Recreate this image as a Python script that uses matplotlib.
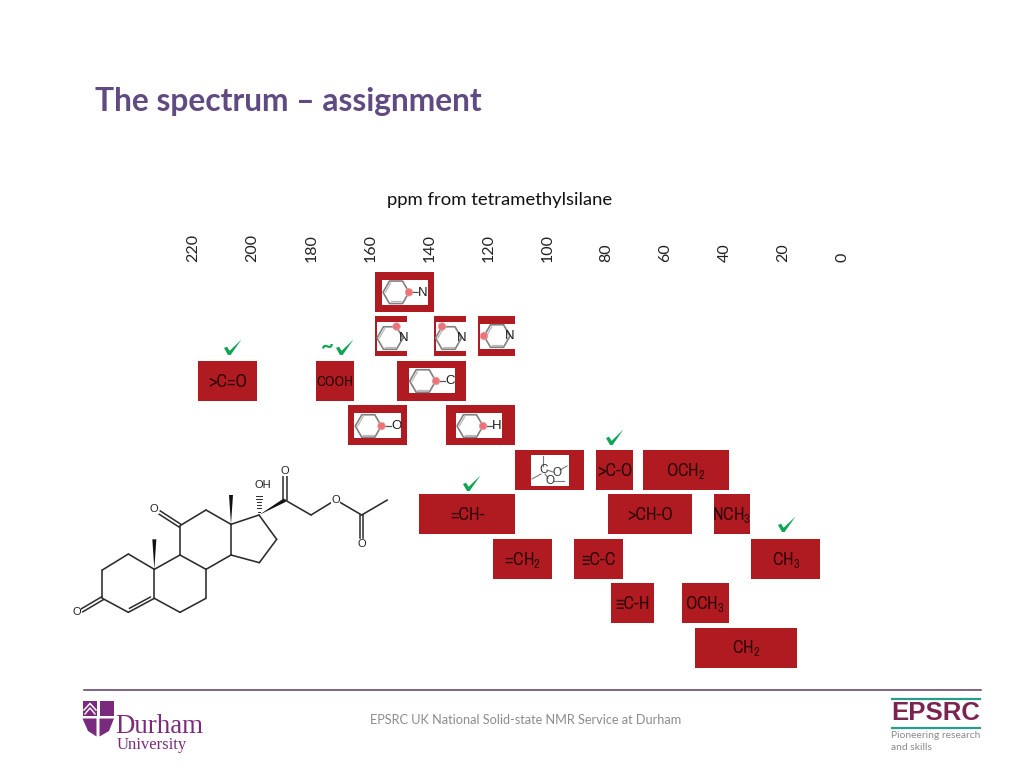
import numpy as np
import matplotlib
matplotlib.use("Agg")
import matplotlib.pyplot as plt
from matplotlib import font_manager as fm
from matplotlib.patches import Polygon, Rectangle, Circle
from matplotlib.transforms import ScaledTranslation

plt.rcParams['mathtext.default'] = 'regular'
names = {f.name for f in fm.fontManager.ttflist}
narrow_found = [n for n in sorted(names) if 'narrow' in n.lower() or 'condensed' in n.lower()]
if narrow_found:
    NARROW, LABEL_SIZE, COOH_SIZE = [narrow_found[0], 'DejaVu Sans'], 12.8, 10.8
else:
    NARROW, LABEL_SIZE, COOH_SIZE = ['Lato', 'DejaVu Sans'], 10.5, 7.8

# ---- data ----
ppm_ticks = [220, 200, 180, 160, 140, 120, 100, 80, 60, 40, 20, 0]
rows = [0, 1, 1, 1, 2, 2, 2, 3, 3, 4, 4, 4, 5, 5, 5, 6, 6, 6, 7, 7, 8]
ppm_high = [158, 158, 138, 123, 218, 178, 150.5, 167, 134, 110.5, 83, 67, 143, 79, 43, 118, 90.5, 30.5, 78, 54, 49.5]
ppm_low = [138, 147, 127, 110.5, 198, 165, 127, 147, 110.5, 87, 70.5, 38, 110.5, 50.5, 31, 98, 74, 7, 63.5, 38, 15]
labels = ['', '', '', '', '>C=O', 'COOH', '', '', '', '', '>C-O', 'OCH$_2$',
          '=CH-', '>CH-O', 'NCH$_3$', '=CH$_2$', '≡C-C', 'CH$_3$', '≡C-H', 'OCH$_3$', 'CH$_2$']

check_xy = [(229, 355), (341, 355), (611, 445), (468, 491), (783, 532)]

# white insets: x0, x1, y0, y1
inset_boxes = [(382.3, 428.3, 280, 305), (376.5, 407.5, 322, 351), (435.5, 466.5, 322, 351),
               (479.5, 515, 323.5, 348.5), (409, 455, 368.3, 393.3), (354.3, 401, 413.3, 438.3),
               (456, 501.7, 413.3, 438.3), (531, 569.3, 455, 485.7)]
ring_cx = [396, 390, 448.5, 497, 422.7, 368.3, 470]
ring_cy = [292.3, 338, 338, 336, 381, 426, 426]
node_x = [409, 396.5, 442, 484, 436, 381.5, 483]
node_y = [292.3, 326.5, 326.5, 336, 381, 426, 426]
ring_lab = ['N', 'N', 'N', 'N', 'C', 'O', 'H']
lab_x = [423, 403.5, 462, 510, 450, 396, 497]
lab_y = [292.5, 338, 338, 336, 381, 426, 426]
has_stem = [True, False, False, False, True, True, True]

# steroid skeleton
atoms = dict(C3=(127, 430), C2=(127, 345), C1=(205, 297), C10=(283, 343), C5=(283, 430), C4=(205, 472),
             C6=(360, 472), C7=(438, 430), C8=(438, 343), C9=(360, 300), C11=(360, 212), C12=(438, 165),
             C13=(513, 208), C14=(513, 300), C15=(598, 323), C16=(650, 253), C17=(597, 180),
             C20=(675, 135), C21=(753, 180), Oe=(815, 142), Oe2=(840, 142), Ca=(905, 180), Me=(982, 135))
bonds = [('C3', 'C2'), ('C2', 'C1'), ('C1', 'C10'), ('C10', 'C5'), ('C5', 'C4'), ('C4', 'C3'), ('C5', 'C6'),
         ('C6', 'C7'), ('C7', 'C8'), ('C8', 'C9'), ('C9', 'C10'), ('C9', 'C11'), ('C11', 'C12'), ('C12', 'C13'),
         ('C13', 'C14'), ('C14', 'C8'), ('C14', 'C15'), ('C15', 'C16'), ('C16', 'C17'), ('C17', 'C13'),
         ('C20', 'C21'), ('C21', 'Oe'), ('Oe2', 'Ca'), ('Ca', 'Me')]
double_bonds = [((127, 430), (66, 466), 5), ((360, 212), (298, 172), 5), ((675, 135), (675, 64), 5),
                ((905, 180), (905, 250), 5), ((283, 430), (205, 472), -1)]
wedges = [((283, 343), (283, 253)), ((513, 208), (513, 120)), ((597, 180), (675, 135))]
mol_atoms = [(50, 472, 'O'), (282, 162, 'O'), (675, 48, 'O'), (827, 135, 'O'), (905, 268, 'O'), (607, 90, 'OH')]

# ---- figure ----
fig = plt.figure(figsize=(10.24, 7.68), dpi=100, facecolor='white')
W, H = 1024, 768

ax = fig.add_axes([100 / W, 1 - 667.6 / H, 800 / W, 395.6 / H])
ax.set_xlim((841 - 100) / 2.95, (841 - 900) / 2.95)
ax.set_ylim(8.9, 0)
ax.patch.set_alpha(0)
for s in ax.spines.values():
    s.set_visible(False)
ax.yaxis.set_visible(False)
ax.xaxis.tick_top()
ax.xaxis.set_label_position('top')
ax.set_xticks(ppm_ticks)
ax.set_xticklabels([str(t) for t in ppm_ticks], rotation=90, family='Lato', fontsize=11.5, color='#222222')
ax.tick_params(axis='x', length=0, pad=7.5)
shift = ScaledTranslation(1.5 / 100, 0, fig.dpi_scale_trans)
for lbl in ax.get_xticklabels():
    lbl.set_transform(lbl.get_transform() + shift)
ax.set_xlabel('ppm from tetramethylsilane', family='Lato', fontsize=13.3, color='#111111', labelpad=20.5)

red = '#b01b21'
for r, hi, lo, lab in zip(rows, ppm_high, ppm_low, labels):
    ax.barh(r + 0.45, hi - lo, left=lo, height=0.9, color=red, edgecolor='none')
    if lab:
        ax.text((hi + lo) / 2, r + 0.47, lab, ha='center', va='center', family=NARROW,
                fontsize=COOH_SIZE if lab == 'COOH' else LABEL_SIZE, color='#2a0608')

ov = fig.add_axes([0, 0, 1, 1], zorder=5)
ov.set_xlim(0, W)
ov.set_ylim(H, 0)
ov.axis('off')

ov.text(95, 102, 'The spectrum – assignment', family='Lato', weight='bold', fontsize=22.9,
        color='#5f4a82', ha='left', va='center')

for x0, x1, y0, y1 in inset_boxes:
    ov.add_patch(Rectangle((x0, y0), x1 - x0, y1 - y0, fc='white', ec='none'))
for cx, cy, nx, ny, lb, lx, ly, stem in zip(ring_cx, ring_cy, node_x, node_y, ring_lab, lab_x, lab_y, has_stem):
    ang = np.radians(np.arange(0, 361, 60))
    r = 13
    ov.plot(cx + r * np.cos(ang), cy + r * np.sin(ang), color='#808080', lw=1.2)
    ov.plot(cx + (r - 2.4) * np.cos(ang[1:3]), cy + (r - 2.4) * np.sin(ang[1:3]), color='#b8b8b8', lw=0.9)
    ov.plot(cx + (r - 2.4) * np.cos(ang[3:5]), cy + (r - 2.4) * np.sin(ang[3:5]), color='#b8b8b8', lw=0.9)
    if stem:
        ov.plot([nx, lx - 5], [ny, ly], color='#555555', lw=0.9)
    ov.add_patch(Circle((nx, ny), 3.8, fc='#ee7379', ec='#e3a6a6', lw=0.5, zorder=6))
    ov.text(lx, ly, lb, ha='center', va='center', family='Liberation Sans', fontsize=9.5, color='#1c1c1c', zorder=6)

for (x0, y0, x1, y1) in [(543.3, 456, 543.3, 466), (541, 474, 532, 479), (547, 470, 553, 472),
                         (560, 470, 567, 466), (545, 474, 548, 478), (554, 481, 564, 481)]:
    ov.plot([x0, x1], [y0, y1], color='#777777', lw=0.8)
for x, y, t in [(543.3, 470, 'C'), (556.7, 473, 'O'), (550, 481, 'O')]:
    ov.text(x, y, t, ha='center', va='center', family='Liberation Sans', fontsize=8.5, color='#333333')

green = '#0fa552'
for x, y in check_xy:
    pts = np.array([(-5, -7), (-2, -8.3), (0.6, -4.2), (12.5, -15.5), (1.6, 0), (-1, 0)])
    ov.add_patch(Polygon(pts + (x, y), closed=True, fc=green, ec='none'))
ov.text(327, 346, '~', family='Lato', weight='bold', fontsize=16, color=green, ha='center', va='center')

def mx(p):
    return p[0] / 3 + 60
def my(p):
    return p[1] / 3 + 455

mol = '#2b2b2b'
for a, b in bonds:
    ov.plot([mx(atoms[a]), mx(atoms[b])], [my(atoms[a]), my(atoms[b])], color=mol, lw=1.15, solid_capstyle='round')
for p, q, d in double_bonds:
    p, q = np.array(p, float), np.array(q, float)
    v = q - p
    n = np.array([-v[1], v[0]]) / np.hypot(*v)
    if d > 0:
        for s in (-d, d):
            ov.plot([mx(p + n * s), mx(q + n * s)], [my(p + n * s), my(q + n * s)], color=mol, lw=1.1)
    else:
        sgn = 9 * (1 if n[1] < 0 else -1)
        a_, b_ = p + n * sgn + v * .1, q + n * sgn - v * .1
        ov.plot([mx(a_), mx(b_)], [my(a_), my(b_)], color=mol, lw=1.1)
for p, q in wedges:
    p, q = np.array(p, float), np.array(q, float)
    v = q - p
    n = np.array([-v[1], v[0]]) / np.hypot(*v)
    tri = [p, q + n * 6, q - n * 6]
    ov.add_patch(Polygon([(mx(t), my(t)) for t in tri], closed=True, fc='#111111', ec='none'))
for f in np.linspace(0.15, 0.8, 6):
    y = 180 - f * 70
    w = 2 + f * 9
    ov.plot([mx((597 - w, y)), mx((597 + w, y))], [my((0, y))] * 2, color=mol, lw=0.7)
for x, y, t in mol_atoms:
    ov.text(mx((x, y)), my((x, y)), t, ha='center', va='center', family='Liberation Sans', fontsize=8,
            color='#222222', bbox=dict(fc='white', ec='none', pad=0.2, alpha=0.7 if t == 'OH' else 1))

ov.plot([84, 981], [690, 690], color='#5d3a63', lw=1.1)
ov.text(526, 720, 'EPSRC UK National Solid-state NMR Service at Durham', family='Lato', fontsize=9.2,
        color='#8c8c8c', ha='center', va='center')

purple = '#7a2a7c'
ov.add_patch(Polygon([(82.5, 701), (96.5, 701), (96.5, 715.5), (82.5, 715.5)], fc=purple, ec='none'))
ov.add_patch(Polygon([(99.5, 701), (114, 701), (114, 715.5), (99.5, 715.5)], fc=purple, ec='none'))
ov.add_patch(Polygon([(82.5, 718.5), (96.5, 718.5), (96.5, 736.5), (88, 731)], fc=purple, ec='none'))
ov.add_patch(Polygon([(99.5, 718.5), (114, 718.5), (109, 731), (99.5, 736.5)], fc=purple, ec='none'))
ov.plot([84, 90, 96], [710, 703.5, 710], color='white', lw=1.1)
ov.plot([85, 90, 95], [714, 708, 714], color='white', lw=1.0)
ov.text(115.5, 726.5, 'Durham', family='Liberation Serif', fontsize=19.4, color=purple, ha='left', va='center')
ov.text(117, 745, 'University', family='Liberation Serif', fontsize=12, color=purple, ha='left', va='center')

teal = '#2a9c8c'
ov.plot([892, 980], [699, 699], color=teal, lw=1.6)
ov.plot([892, 980], [727.5, 727.5], color=teal, lw=1.6)
ov.text(936, 713, 'EPSRC', family='Liberation Sans', weight='bold', fontsize=18.5, color='#7b2450',
        ha='center', va='center')
ov.text(891, 736, 'Pioneering research', family='Lato', fontsize=7.4, color='#8a8a8a', ha='left', va='center')
ov.text(891, 747, 'and skills', family='Lato', fontsize=7.4, color='#8a8a8a', ha='left', va='center')

fig.savefig('out.png', dpi=100)
